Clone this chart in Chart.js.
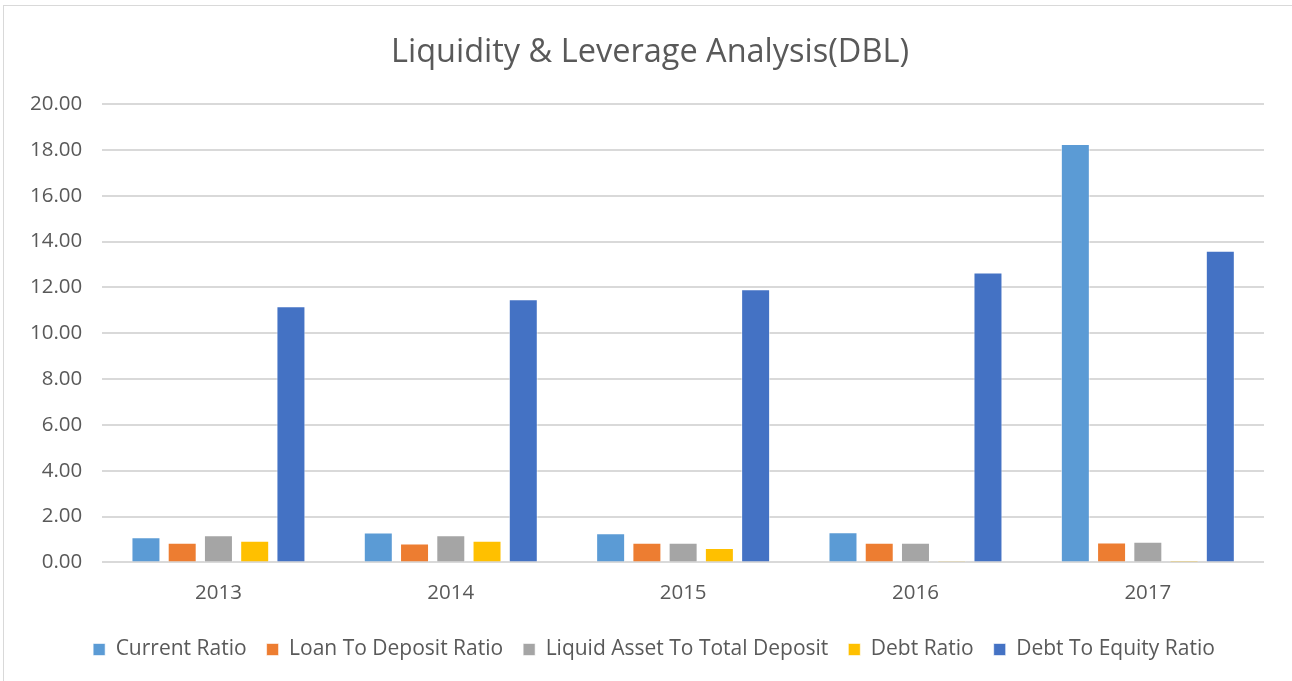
<!DOCTYPE html>
<html>
<head>
<meta charset="utf-8">
<script src="https://cdn.jsdelivr.net/npm/chart.js@4/dist/chart.umd.min.js"></script>
<style>
    html, body { margin: 0; padding: 0; background: #fff; }
    .frame {
        position: absolute; left: 3px; top: 5px; width: 1300px; height: 690px;
        border-left: 1px solid #d9d9d9; border-top: 1px solid #d9d9d9;
    }
    .wrap { position: absolute; left: 0; top: 0; width: 1292px; height: 681px; }
</style>
</head>
<body>
<div class="frame"></div>
<div class="wrap"><canvas id="ratioChart"></canvas></div>
<script>
// values
const years = ['2013', '2014', '2015', '2016', '2017'];
const currentRatio = [1.10, 1.30, 1.27, 1.32, 18.25];
const loanToDeposit = [0.86, 0.83, 0.86, 0.86, 0.87];
const liquidToDeposit = [1.18, 1.18, 0.86, 0.86, 0.90];
const debtRatio = [0.95, 0.95, 0.63, 0.01, 0.08];
const debtToEquity = [11.18, 11.48, 11.92, 12.65, 13.60];
const yTicks = [0, 2, 4, 6, 8, 10, 12, 14, 16, 18, 20];

const font = "'Open Sans', 'Noto Sans', sans-serif";
const textColor = '#595959';

function ds(label, data, color) {
    return {
        label, data,
        backgroundColor: color,
        borderColor: 'rgba(255,255,255,0.6)',
        borderWidth: 1,
        barPercentage: 0.8,
        categoryPercentage: 0.78
    };
}

// title and legend sit a bit right of centre in the original
const nudgeBoxes = {
    id: 'nudgeBoxes',
    afterLayout(chart) {
        if (chart.titleBlock) { chart.titleBlock.left += 13; chart.titleBlock.right += 13; }
        if (chart.legend) { chart.legend.left += 17; chart.legend.right += 17; }
    }
};

new Chart(document.getElementById('ratioChart'), {
    type: 'bar',
    data: {
        labels: years,
        datasets: [
            ds('Current Ratio', currentRatio, '#5B9BD5'),
            ds('Loan To Deposit Ratio', loanToDeposit, '#ED7D31'),
            ds('Liquid Asset To Total Deposit', liquidToDeposit, '#A5A5A5'),
            ds('Debt Ratio', debtRatio, '#FFC000'),
            ds('Debt To Equity Ratio', debtToEquity, '#4472C4')
        ]
    },
    plugins: [nudgeBoxes],
    options: {
        responsive: true, maintainAspectRatio: false, animation: false,
        layout: { padding: { left: 10, right: 28, top: 33, bottom: 11 } },
        plugins: {
            title: {
                display: true, text: 'Liquidity & Leverage Analysis(DBL)',
                color: textColor, font: { family: font, size: 32.5, weight: 'normal' },
                padding: { top: 0, bottom: 32 }
            },
            legend: {
                position: 'bottom',
                labels: {
                    color: textColor, font: { family: font, size: 21 },
                    boxWidth: 12, boxHeight: 12, padding: 20
                }
            },
            tooltip: { enabled: false }
        },
        scales: {
            x: {
                grid: { display: false },
                border: { display: false },
                afterFit: axis => { axis.height += 4; },
                ticks: { color: textColor, font: { family: font, size: 20.5 }, padding: 10 }
            },
            y: {
                min: 0, max: 20,
                afterBuildTicks: axis => { axis.ticks = yTicks.map(v => ({ value: v })); },
                grid: { color: '#d9d9d9', lineWidth: 2, drawTicks: false },
                border: { display: false },
                ticks: { color: textColor, font: { family: font, size: 20.5 }, padding: 20,
                    callback: v => Number(v).toFixed(2) }
            }
        }
    }
});
</script>
</body>
</html>
